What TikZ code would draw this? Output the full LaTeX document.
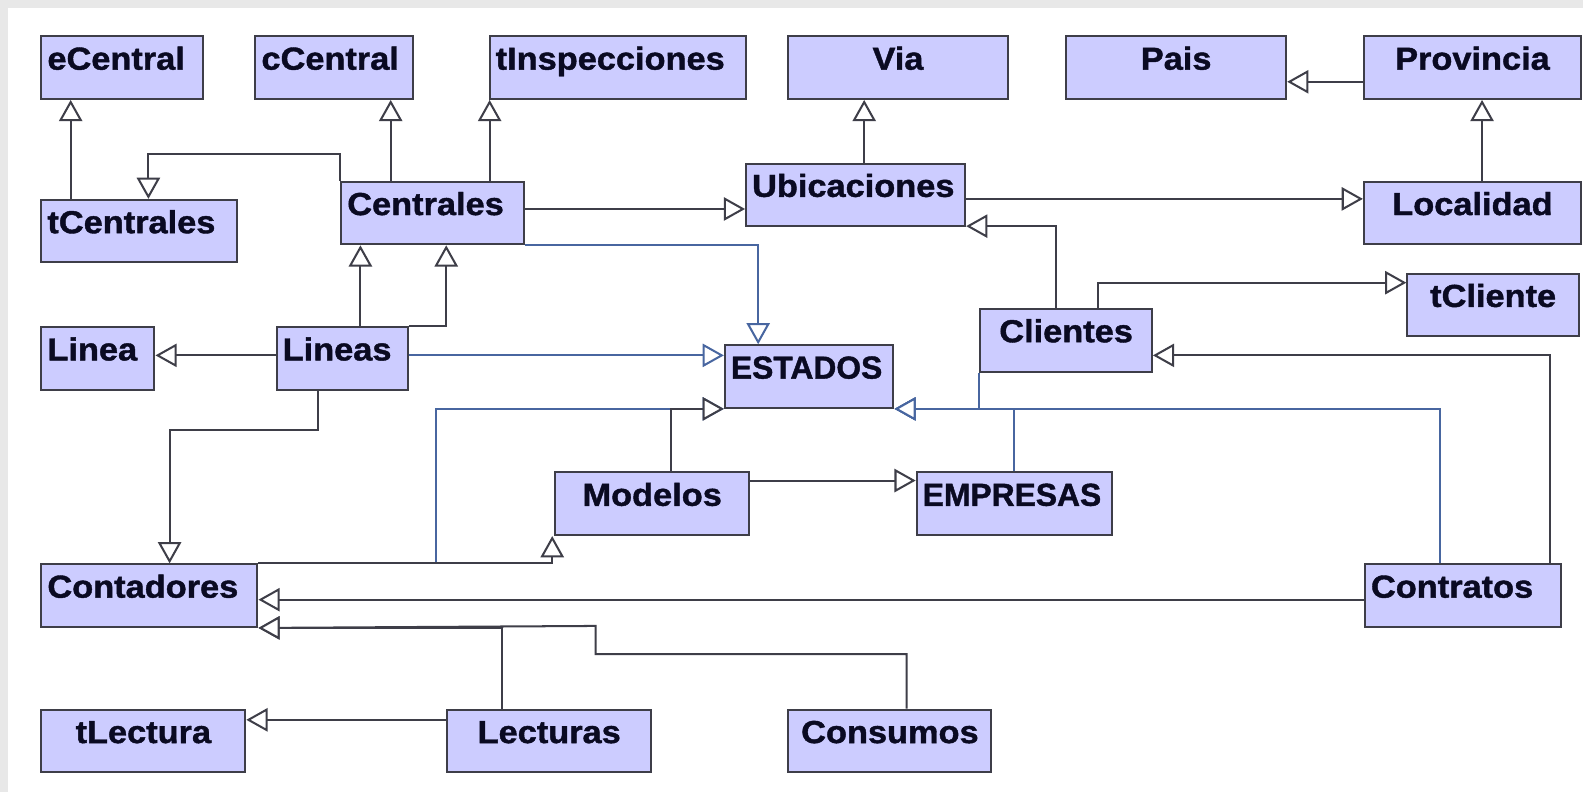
\documentclass[tikz,border=0pt]{standalone}
\usepackage{fontspec}
\usepackage{tikz}
\usetikzlibrary{arrows.meta}
\newfontfamily\clasefont{Liberation Sans}[FakeStretch=1.08, FakeBold=1.3]
\newfontfamily\clasefontmay{Liberation Sans}[FakeStretch=1.0, FakeBold=1.3]
\definecolor{lila}{RGB}{204,204,255}
\definecolor{borde}{RGB}{62,62,72}
\definecolor{texto}{RGB}{10,10,34}
\definecolor{azul}{RGB}{72,102,160}
\definecolor{fondo}{RGB}{232,232,232}
\tikzset{
  clase/.style={draw=borde, fill=lila, line width=2pt, anchor=north west,
    inner xsep=6pt, inner ysep=6pt, text height=27pt, text depth=23pt,
    text=texto, font={\clasefont\bfseries\fontsize{31.5}{32}\selectfont}},
  izq/.style={clase, text width=#1-12pt, align=left},
  cen/.style={clase, text width=#1-12pt, align=center},
  mayus/.style={font={\clasefontmay\bfseries\fontsize{31.5}{32}\selectfont}},
  hereda/.style={draw=borde, line width=2pt, line join=miter,
    -{Triangle[open, fill=white, length=21pt, width=23pt]}},
  estado/.style={hereda, draw=azul},
}
\begin{document}
\begin{tikzpicture}[x=1pt, y=-1pt]
	\useasboundingbox (0,0) rectangle (1568,784);
	\fill[fondo] (0,0) rectangle (1568,784);
	\fill[white] (8,8) rectangle (1568,784);

	\node[izq=160] (eCentral)      at (40,35)    {eCentral};
	\node[izq=156] (cCentral)      at (252,35)   {cCentral};
	\node[izq=254] (tInspecciones) at (484,35)   {tInspecciones};
	\node[cen=217] (Via)           at (780,35)   {Via};
	\node[cen=218] (Pais)          at (1055,35)  {Pais};
	\node[cen=215] (Provincia)     at (1350,35)  {Provincia};
	\node[izq=194] (tCentrales)    at (40,197)   {tCentrales};
	\node[izq=181] (Centrales)     at (337,179)  {Centrales};
	\node[izq=217] (Ubicaciones)   at (738,161)  {Ubicaciones};
	\node[cen=215] (Localidad)     at (1350,179) {Localidad};
	\node[cen=170] (tCliente)      at (1393,270) {tCliente};
	\node[izq=112] (Linea)         at (40,323)   {Linea};
	\node[izq=130] (Lineas)        at (273,323)  {Lineas};
	\node[izq=167, mayus] (ESTADOS) at (717,341) {ESTADOS};
	\node[cen=170] (Clientes)      at (970,305)  {Clientes};
	\node[cen=192] (Modelos)       at (549,467)  {Modelos};
	\node[izq=193, mayus] (EMPRESAS) at (907,467) {EMPRESAS};
	\node[izq=214] (Contadores)    at (40,558)   {Contadores};
	\node[izq=194] (Contratos)     at (1351,558) {Contratos};
	\node[cen=202] (tLectura)      at (40,702)   {tLectura};
	\node[cen=202] (Lecturas)      at (442,702)  {Lecturas};
	\node[cen=201] (Consumos)      at (780,702)  {Consumos};

	\draw[estado] (Centrales.south east) -| ([xshift=34pt]ESTADOS.north west);
	\draw[estado] ([yshift=-29pt]Lineas.north east) -- ([yshift=-11pt]ESTADOS.north west);
	\draw[estado] (Contadores.north east) -| ([xshift=-285pt]ESTADOS.south west) -- (ESTADOS.south west);
	\draw[estado] (Clientes.south west) |- (ESTADOS.south east);
	\draw[estado] ([xshift=97pt]EMPRESAS.north west) |- (ESTADOS.south east);
	\draw[estado] ([xshift=75pt]Contratos.north west) |- (ESTADOS.south east);

	\draw[hereda] ([xshift=30pt]tCentrales.north west) -- ([xshift=30pt]eCentral.south west);
	\draw[hereda] ([xshift=50pt]Centrales.north west) -- ([xshift=135pt]cCentral.south west);
	\draw[hereda] ([xshift=148pt]Centrales.north west) -- ([xshift=1pt]tInspecciones.south west);
	\draw[hereda] (Centrales.north west) -- ++(0,-26) -| ([xshift=107pt]tCentrales.north west);
	\draw[hereda] ([xshift=118pt]Ubicaciones.north west) -- ([xshift=76pt]Via.south west);
	\draw[hereda] ([yshift=-46pt]Provincia.north west) -- ([yshift=-46pt]Pais.north east);
	\draw[hereda] ([xshift=118pt]Localidad.north west) -- ([xshift=118pt]Provincia.south west);
	\draw[hereda] ([yshift=-28pt]Centrales.north east) -- ([yshift=-46pt]Ubicaciones.north west);
	\draw[hereda] ([yshift=-36pt]Ubicaciones.north east) -- ([yshift=-18pt]Localidad.north west);
	\draw[hereda] ([xshift=76pt]Clientes.north west) |- ([yshift=1pt]Ubicaciones.south east);
	\draw[hereda] ([xshift=118pt]Clientes.north west) |- ([yshift=-10pt]tCliente.north west);
	\draw[hereda] ([xshift=184pt]Contratos.north west) |- ([yshift=-47pt]Clientes.north east);
	\draw[hereda] ([xshift=84pt]Lineas.north west) -- ([xshift=20pt]Centrales.south west);
	\draw[hereda] (Lineas.north east) -| ([xshift=105pt]Centrales.south west);
	\draw[hereda] ([yshift=-29pt]Lineas.north west) -- ([yshift=-29pt]Linea.north east);
	\draw[hereda] ([xshift=42pt]Lineas.south west) -- ++(0,39) -| ([xshift=128pt]Contadores.north west);
	\draw[hereda] ([xshift=116pt]Modelos.north west) |- (ESTADOS.south west);
	\draw[hereda] ([yshift=-9pt]Modelos.north east) -- ([yshift=-9pt]EMPRESAS.north west);
	\draw[hereda] (Contadores.north east) -| ([xshift=-2pt]Modelos.south west);
	\draw[hereda] ([yshift=-36pt]Contratos.north west) -- ([yshift=-36pt]Contadores.north east);
	\draw[hereda] ([xshift=55pt]Lecturas.north west) |- (Contadores.south east);
	\draw[hereda] ([xshift=118pt]Consumos.north west) -- ++(0,-54) -| ++(-308,-28) -- (Contadores.south east);
	\draw[hereda] ([yshift=-11pt]Lecturas.north west) -- ([yshift=-11pt]tLectura.north east);
\end{tikzpicture}
\end{document}
